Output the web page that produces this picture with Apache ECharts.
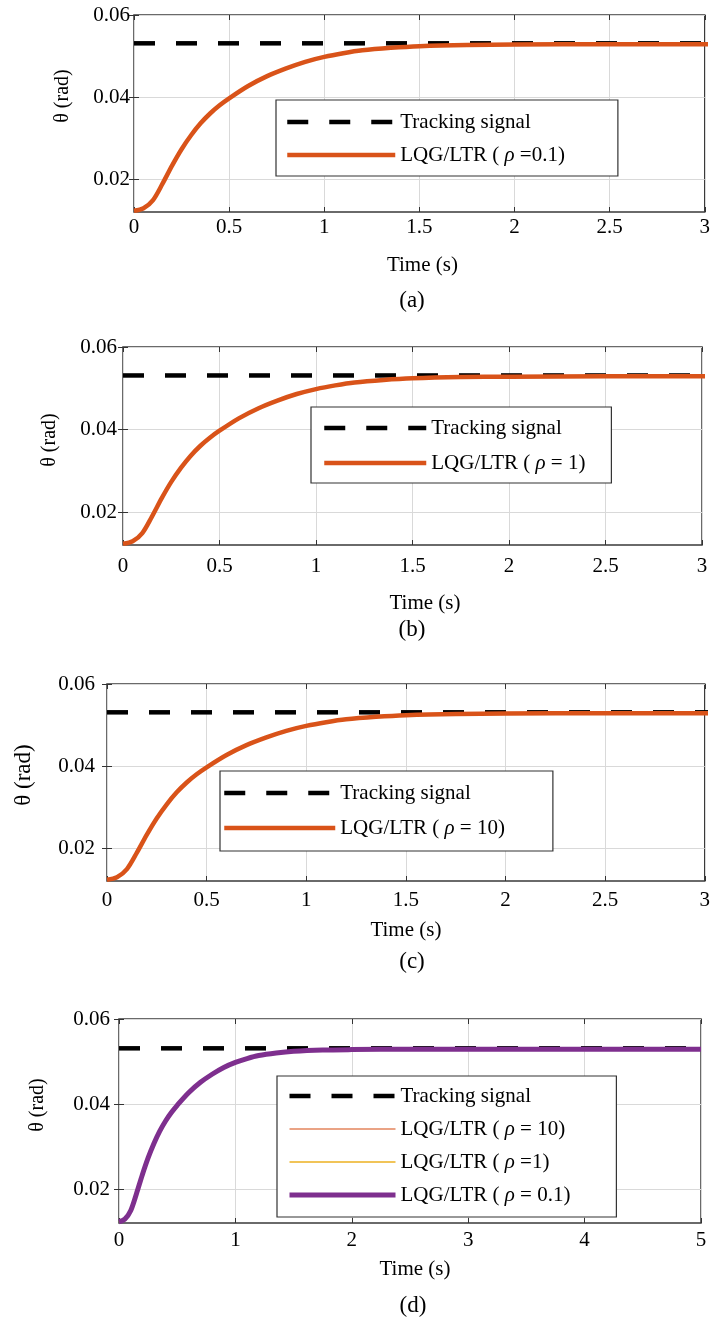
<!DOCTYPE html>
<html><head><meta charset="utf-8">
<script src="https://cdn.jsdelivr.net/npm/echarts@6/dist/echarts.min.js"></script>
<style>html,body{margin:0;padding:0;background:#fff}#c{width:713px;height:1322px}</style>
</head><body><div id="c"></div>
<script>
// ---------- data ----------
const timeS  = [0,0.05,0.1,0.15,0.2,0.25,0.3,0.35,0.4,0.45,0.5,0.6,0.7,0.8,0.9,1.0,1.1,1.2,1.35,1.5,1.75,2.0,2.5,3.0,4.0,5.0];
const rho01  = [0.0123,0.0129,0.0149,0.0189,0.0233,0.0273,0.0307,0.0336,0.0360,0.0380,0.0397,0.0427,0.0451,0.0470,0.0486,0.0498,0.0507,0.0514,0.0520,0.0524,0.0527,0.0528,0.0529,0.0529,0.0529,0.0529];
const rho1   = [0.0123,0.0129,0.0149,0.0189,0.0233,0.0273,0.0307,0.0336,0.0360,0.0380,0.0397,0.0427,0.0451,0.0470,0.0486,0.0498,0.0507,0.0514,0.0520,0.0524,0.0527,0.0528,0.0529,0.0529,0.0529,0.0529];
const rho10  = [0.0123,0.0129,0.0149,0.0189,0.0233,0.0273,0.0307,0.0336,0.0360,0.0380,0.0397,0.0427,0.0451,0.0470,0.0486,0.0498,0.0507,0.0514,0.0520,0.0524,0.0527,0.0528,0.0529,0.0529,0.0529,0.0529];
const trackTime  = [0, 5];
const trackValue = [0.0531, 0.0531];
const yTickValues = [0.02, 0.04, 0.06];
const xMaxABC = 3, xIntABC = 0.5;
const xMaxD = 5, xIntD = 1;
const yMin = 0.012, yMax = 0.06;
const captions = ['(a)', '(b)', '(c)', '(d)'];
const yTitle = 'θ (rad)';
const xTitle = 'Time (s)';
const legendLabels = {
  trk_a: 'Tracking signal', trk_b: 'Tracking signal', trk_c: 'Tracking signal', trk_d: 'Tracking signal',
  a_r01: '{n|LQG/LTR ( }{i|ρ}{n| =0.1)}',
  b_r1:  '{n|LQG/LTR ( }{i|ρ}{n| = 1)}',
  c_r10: '{n|LQG/LTR ( }{i|ρ}{n| = 10)}',
  d_r10: '{n|LQG/LTR ( }{i|ρ}{n| = 10)}',
  d_r1:  '{n|LQG/LTR ( }{i|ρ}{n| =1)}',
  d_r01: '{n|LQG/LTR ( }{i|ρ}{n| = 0.1)}'
};
// ---------- build ----------
const zip = (xs, ys) => xs.map((x, i) => [x, ys[i]]);
const FONT = '"Liberation Serif","Times New Roman",serif';
const ORANGE = '#D95319', PURPLE = '#7E2F8E', YELLOW = '#EDB120', ORANGE_THIN = '#E3855C';

const panels = [
  {grid:{left:134,top:15,width:572,height:197}, xMax:xMaxABC, xInt:xIntABC, xMargin:5,  nameGap:43, namePad:6,  yMargin:4,
   legend:{left:276, top:100, padding:[11,53,10,9], itemWidth:108, itemGap:11},
   yT:[63,96,20], cap:[412,301]},
  {grid:{left:123,top:347,width:579,height:198}, xMax:xMaxABC, xInt:xIntABC, xMargin:11, nameGap:48, namePad:25, yMargin:6,
   legend:{left:311, top:407, padding:[10,26,9,11], itemWidth:102, itemGap:13},
   yT:[50,440,20], cap:[412,630]},
  {grid:{left:107,top:684,width:598,height:197}, xMax:xMaxABC, xInt:xIntABC, xMargin:9,  nameGap:39, namePad:0,  yMargin:12,
   legend:{left:220, top:771, padding:[11,48,12,2], itemWidth:111, itemGap:13},
   yT:[24,775,23], cap:[412,962]},
  {grid:{left:119,top:1019,width:582,height:204}, xMax:xMaxD, xInt:xIntD, xMargin:7, nameGap:36, namePad:10, yMargin:9,
   legend:{left:277, top:1076, padding:[9,46,11,10], itemWidth:106, itemGap:11},
   yT:[38,1105,20], cap:[413,1306]}
];

const grids = [], xAxes = [], yAxes = [], legends = [], series = [], graphics = [];
const tickStyle = {show:true, inside:true, length:5, lineStyle:{color:'#333', width:1}};
const gridLine = {show:true, lineStyle:{color:'#d9d9d9', width:1}};

panels.forEach((p, i) => {
  grids.push(Object.assign({show:true, borderColor:'#3a3a3a', borderWidth:1.5, backgroundColor:'#fff'}, p.grid));
  xAxes.push({type:'value', gridIndex:i, position:'bottom', min:0, max:p.xMax, interval:p.xInt,
    axisLine:{show:false}, axisTick:tickStyle, splitLine:gridLine,
    axisLabel:{color:'#000', fontFamily:FONT, fontSize:21, margin:p.xMargin},
    name:xTitle, nameLocation:'middle', nameGap:p.nameGap,
    nameTextStyle:{color:'#000', fontFamily:FONT, fontSize:21, padding:[0,0,0,p.namePad]}});
  xAxes.push({type:'value', gridIndex:i, position:'top', min:0, max:p.xMax, interval:p.xInt,
    axisLine:{show:false}, axisTick:tickStyle, splitLine:{show:false}, axisLabel:{show:false}});
  yAxes.push({type:'value', gridIndex:i, position:'left', min:yMin, max:yMax,
    axisLine:{show:false},
    axisTick:Object.assign({customValues:yTickValues}, tickStyle),
    splitLine:gridLine,
    axisLabel:{customValues:yTickValues, color:'#000', fontFamily:FONT, fontSize:21, margin:p.yMargin,
      lineHeight:21, padding:[8,0,0,0]}});
  yAxes.push({type:'value', gridIndex:i, position:'right', min:yMin, max:yMax,
    axisLine:{show:false},
    axisTick:Object.assign({customValues:yTickValues}, tickStyle),
    splitLine:{show:false}, axisLabel:{show:false}});
  graphics.push({type:'text', x:p.yT[0], y:p.yT[1], rotation:Math.PI/2,
    style:{text:yTitle, fill:'#000', font:p.yT[2] + 'px ' + FONT, align:'center', verticalAlign:'middle'}});
  graphics.push({type:'text', x:p.cap[0], y:p.cap[1],
    style:{text:captions[i], fill:'#000', font:'23px ' + FONT, align:'center', verticalAlign:'middle'}});
});

const widths = {};
function addSeries(name, gi, xs, ys, color, width, dashed, z) {
  widths[name] = width;
  series.push({name, type:'line', xAxisIndex:gi*2, yAxisIndex:gi*2, data:zip(xs, ys),
    symbol:'none', showSymbol:false, smooth:dashed ? false : 0.3,
    lineStyle:{color, width, type: dashed ? [21,21] : 'solid', cap:'butt'},
    itemStyle:{color}, z, silent:true, animation:false});
}
addSeries('trk_a', 0, trackTime, trackValue, '#000', 4.5, true, 2);
addSeries('a_r01', 0, timeS, rho01, ORANGE, 4.5, false, 3);
addSeries('trk_b', 1, trackTime, trackValue, '#000', 4.5, true, 2);
addSeries('b_r1', 1, timeS, rho1, ORANGE, 4.5, false, 3);
addSeries('trk_c', 2, trackTime, trackValue, '#000', 4.5, true, 2);
addSeries('c_r10', 2, timeS, rho10, ORANGE, 4.5, false, 3);
addSeries('trk_d', 3, trackTime, trackValue, '#000', 4.5, true, 2);
addSeries('d_r10', 3, timeS, rho10, ORANGE_THIN, 1.5, false, 3);
addSeries('d_r1', 3, timeS, rho1, YELLOW, 1.5, false, 3);
addSeries('d_r01', 3, timeS, rho01, PURPLE, 5, false, 3);

const legendNames = [['trk_a','a_r01'],['trk_b','b_r1'],['trk_c','c_r10'],['trk_d','d_r10','d_r1','d_r01']];
panels.forEach((p, i) => {
  legends.push({
    orient:'vertical', left:p.legend.left, top:p.legend.top, padding:p.legend.padding,
    itemWidth:p.legend.itemWidth, itemHeight:14, itemGap:p.legend.itemGap,
    data:legendNames[i].map(n => ({name:n, lineStyle:{width:widths[n]}})), selectedMode:false,
    backgroundColor:'#fff', borderColor:'#333', borderWidth:1.2, borderRadius:0,
    itemStyle:{opacity:0, borderWidth:0},
    formatter: n => legendLabels[n],
    textStyle:{color:'#000', fontFamily:FONT, fontSize:21, lineHeight:22,
      rich:{n:{fontFamily:FONT, fontSize:21, lineHeight:22, color:'#000'},
            i:{fontFamily:FONT, fontSize:21, lineHeight:22, fontStyle:'italic', color:'#000'}}},
    z:10
  });
});

const chart = echarts.init(document.getElementById('c'), null, {renderer:'canvas'});
chart.setOption({
  animation:false, backgroundColor:'#fff',
  grid:grids, xAxis:xAxes, yAxis:yAxes, legend:legends, series, graphic:graphics
});
</script></body></html>
